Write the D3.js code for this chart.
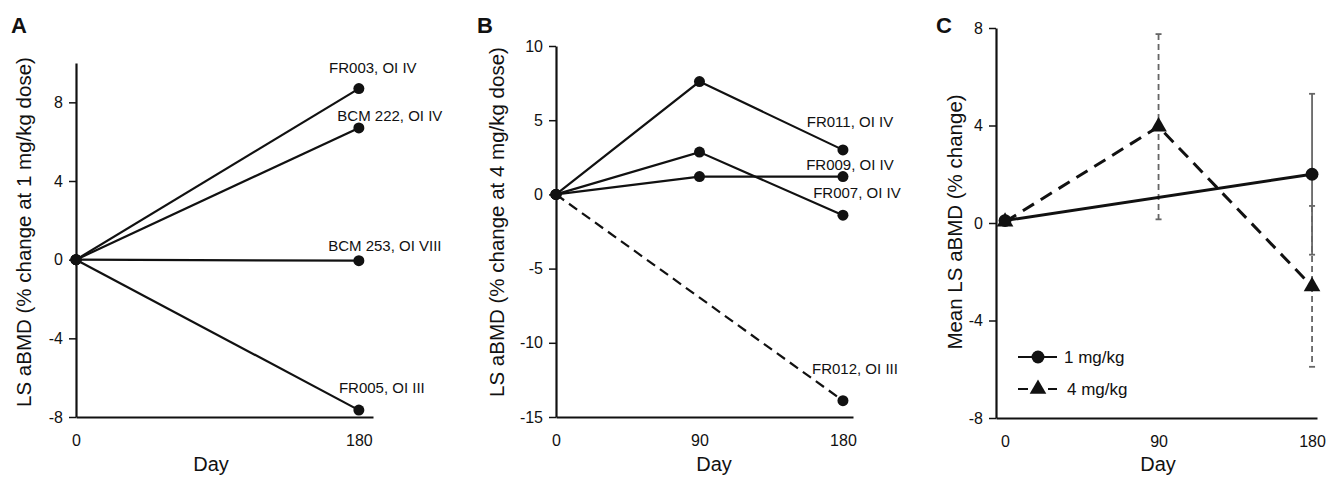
<!DOCTYPE html>
<html>
<head>
<meta charset="utf-8">
<script src="https://cdn.jsdelivr.net/npm/d3@7"></script>
<style>
  body { margin: 0; background: #fff; }
  svg text { font-family: "Liberation Sans", Arial, Helvetica, sans-serif; fill: #111; }
</style>
</head>
<body>
<div class="chart"></div>
<script>
// ---- data ----
const daysA = [0, 180];
const subjectsA = ["FR003, OI IV", "BCM 222, OI IV", "BCM 253, OI VIII", "FR005, OI III"];
const valuesA = [[0, 8.7], [0, 6.7], [0, -0.05], [0, -7.65]];
const yTicksA = [8, 4, 0, -4, -8];

const daysB = [0, 90, 180];
const subjectsB = ["FR011, OI IV", "FR009, OI IV", "FR007, OI IV", "FR012, OI III"];
const valuesB = [[0, 7.6, 3.0], [0, 1.2, 1.2], [0, 2.85, -1.4], [0, null, -13.9]];
const yTicksB = [10, 5, 0, -5, -10, -15];

const daysC = [0, 90, 180];
const doses = ["1 mg/kg", "4 mg/kg"];
const mean1 = [0.1, null, 2.0];
const err1 = [null, null, 3.3];
const mean4 = [0.05, 3.95, -2.6];
const err4 = [null, 3.8, 3.3];
const yTicksC = [8, 4, 0, -4, -8];

// ---- layout ----
const W = 1328, H = 477;
const svg = d3.select(".chart").append("svg").attr("width", W).attr("height", H);

const labelOffA = [[14, -16], [31, -7], [26, -10], [23, -17]];
const labelOffB = [[7, -23], [7, -7], [14, -17], [12, -27]];
const dashedB = [false, false, false, true];

function axes(g, x, y, xticks, yticks) {
  const yAxis = d3.axisLeft(y).tickValues(yticks).tickFormat(d => String(d))
    .tickSize(7).tickPadding(6).tickSizeOuter(0);
  const gy = g.append("g").attr("class", "axis y-axis")
    .attr("transform", `translate(${x.range()[0]},0)`).call(yAxis);
  const xAxis = d3.axisBottom(x).tickValues(xticks).tickFormat(d => String(d))
    .tickSize(0).tickPadding(18).tickSizeOuter(0);
  const gx = g.append("g").attr("class", "axis x-axis")
    .attr("transform", `translate(0,${y.range()[0]})`).call(xAxis);
  [gx, gy].forEach(a => {
    a.select(".domain").attr("stroke", "#111").attr("stroke-width", 2.2);
    a.selectAll(".tick line").attr("stroke", "#111").attr("stroke-width", 1.5);
    a.selectAll(".tick text").style("font-size", "16px").attr("fill", "#111");
  });
}

function titles(g, letter, lx, xtitle, xtx, ytitle, ytx, yty) {
  g.append("text").attr("x", lx).attr("y", 33).text(letter)
    .style("font-size", "22px").style("font-weight", "bold");
  g.append("text").attr("x", xtx).attr("y", 471).attr("text-anchor", "middle")
    .style("font-size", "20px").text(xtitle);
  g.append("text").attr("transform", `translate(${ytx},${yty}) rotate(-90)`)
    .attr("text-anchor", "middle").attr("dy", "0.35em")
    .style("font-size", "20.5px").text(ytitle);
}

// ---------- Panel A ----------
{
  const g = svg.append("g");
  const x = d3.scaleLinear().domain([0, 189]).range([76, 373]);
  const y = d3.scaleLinear().domain([-8, 10]).range([417, 63]);
  axes(g, x, y, [0, 180], yTicksA);
  titles(g, "A", 11, "Day", 211, "LS aBMD (% change at 1 mg/kg dose)", 24, 232);

  const line = d3.line().x((d, i) => x(daysA[i])).y(d => y(d));
  valuesA.forEach((vals, k) => {
    g.append("path").attr("d", line(vals)).attr("fill", "none")
      .attr("stroke", "#111").attr("stroke-width", 2.2);
    g.selectAll(null).data(vals).enter().append("circle")
      .attr("cx", (d, i) => x(daysA[i])).attr("cy", d => y(d)).attr("r", 5.5).attr("fill", "#111");
    const last = vals.length - 1;
    g.append("text").attr("text-anchor", "middle")
      .attr("x", x(daysA[last]) + labelOffA[k][0]).attr("y", y(vals[last]) + labelOffA[k][1])
      .style("font-size", "15px").text(subjectsA[k]);
  });
}

// ---------- Panel B ----------
{
  const g = svg.append("g");
  const x = d3.scaleLinear().domain([0, 186.3]).range([556, 853]);
  const y = d3.scaleLinear().domain([-15, 10]).range([417, 46]);
  axes(g, x, y, [0, 90, 180], yTicksB);
  titles(g, "B", 477, "Day", 714, "LS aBMD (% change at 4 mg/kg dose)", 497, 222);

  valuesB.forEach((vals, k) => {
    const pts = vals.map((v, i) => [daysB[i], v]).filter(p => p[1] != null);
    const line = d3.line().x(p => x(p[0])).y(p => y(p[1]));
    g.append("path").attr("d", line(pts)).attr("fill", "none")
      .attr("stroke", "#111").attr("stroke-width", 2.2)
      .attr("stroke-dasharray", dashedB[k] ? "10,6" : null);
    g.selectAll(null).data(pts).enter().append("circle")
      .attr("cx", p => x(p[0])).attr("cy", p => y(p[1])).attr("r", 5.5).attr("fill", "#111");
    const lp = pts[pts.length - 1];
    g.append("text").attr("text-anchor", "middle")
      .attr("x", x(lp[0]) + labelOffB[k][0]).attr("y", y(lp[1]) + labelOffB[k][1])
      .style("font-size", "15px").text(subjectsB[k]);
  });
}

// ---------- Panel C ----------
{
  const g = svg.append("g");
  const x = d3.scaleLinear().domain([-5.3, 182.9]).range([996, 1317]);
  const y = d3.scaleLinear().domain([-8, 8]).range([418, 28]);
  axes(g, x, y, [0, 90, 180], yTicksC);
  titles(g, "C", 936, "Day", 1158, "Mean LS aBMD (% change)", 955, 222);

  const series = [
    { mean: mean1, err: err1, dash: null, errDash: null, marker: "circle" },
    { mean: mean4, err: err4, dash: "13,8", errDash: "6,4", marker: "triangle" }
  ];

  // error bars first
  series.forEach(s => {
    s.mean.forEach((m, i) => {
      if (m == null || s.err[i] == null) return;
      const cx = x(daysC[i]);
      const bar = g.append("g").attr("stroke", "#666").attr("stroke-width", 1.8);
      bar.append("line").attr("x1", cx).attr("x2", cx)
        .attr("y1", y(m + s.err[i])).attr("y2", y(m - s.err[i]))
        .attr("stroke-dasharray", s.errDash);
      [m + s.err[i], m - s.err[i]].forEach(v => {
        bar.append("line").attr("x1", cx - 3).attr("x2", cx + 3)
          .attr("y1", y(v)).attr("y2", y(v));
      });
    });
  });

  const sym = {
    circle: d3.symbol().type(d3.symbolCircle).size(130),
    triangle: d3.symbol().type(d3.symbolTriangle).size(120)
  };

  series.forEach(s => {
    const pts = s.mean.map((v, i) => [daysC[i], v]).filter(p => p[1] != null);
    const line = d3.line().x(p => x(p[0])).y(p => y(p[1]));
    g.append("path").attr("d", line(pts)).attr("fill", "none")
      .attr("stroke", "#111").attr("stroke-width", 3)
      .attr("stroke-dasharray", s.dash);
    g.selectAll(null).data(pts).enter().append("path")
      .attr("d", sym[s.marker])
      .attr("transform", p => `translate(${x(p[0])},${y(p[1])})`)
      .attr("fill", "#111");
  });

  // legend
  const leg = g.append("g");
  const ly = [357, 389];
  doses.forEach((name, k) => {
    const s = series[k];
    leg.append("line").attr("x1", 1018).attr("x2", 1057).attr("y1", ly[k]).attr("y2", ly[k])
      .attr("stroke", "#111").attr("stroke-width", 2.2)
      .attr("stroke-dasharray", k === 1 ? "10,4,0,16,9" : null);
    leg.append("path").attr("d", sym[s.marker])
      .attr("transform", `translate(1038,${ly[k]})`).attr("fill", "#111");
    leg.append("text").attr("x", k === 0 ? 1064 : 1067).attr("y", ly[k]).attr("dy", "0.35em")
      .style("font-size", "17px").text(name);
  });
}
</script>
</body>
</html>
